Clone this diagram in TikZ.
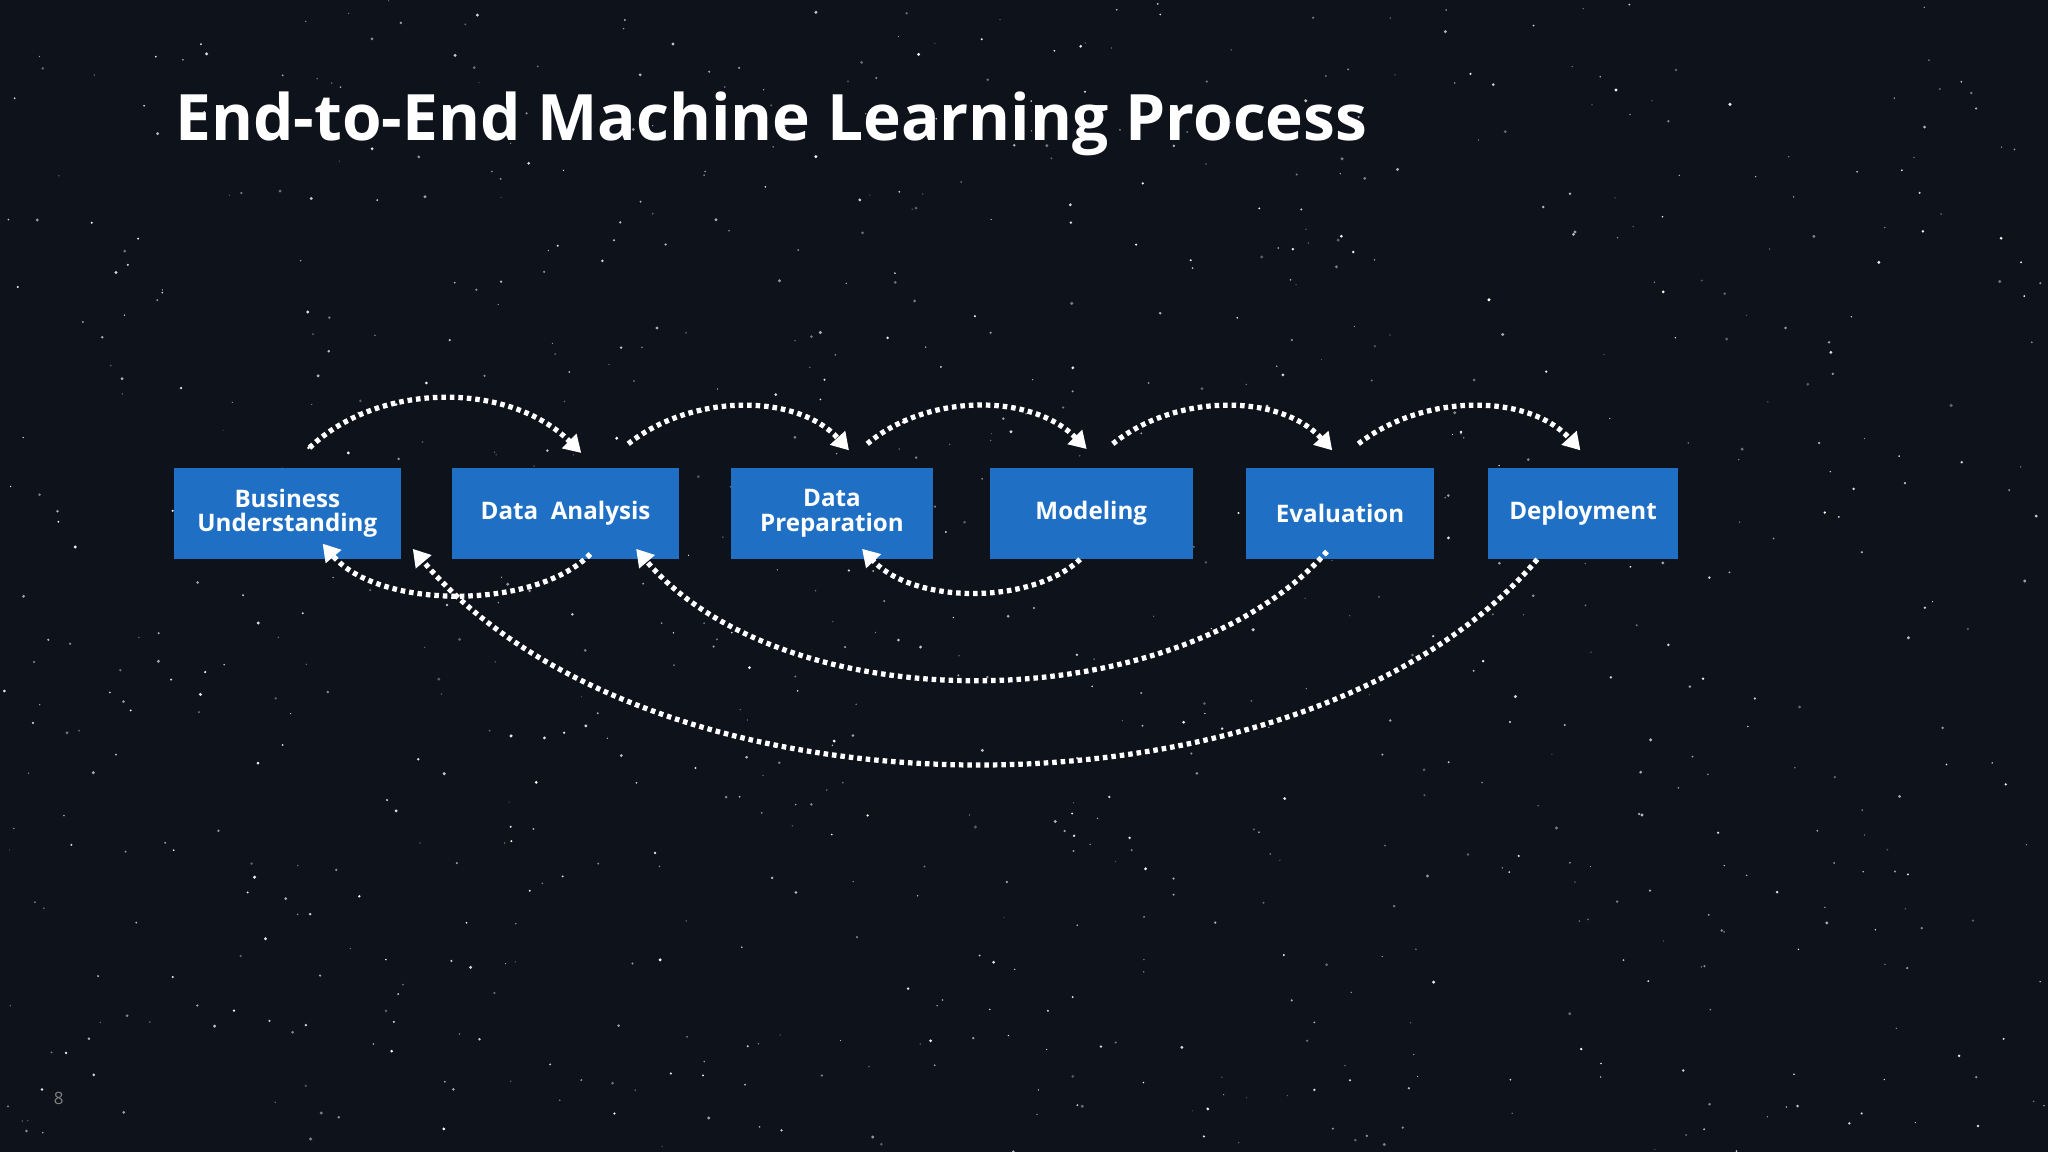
\documentclass[tikz,border=0pt]{standalone}
\usepackage{fontspec}
\setmainfont{Open Sans}
\usetikzlibrary{arrows.meta}
\begin{document}
\begin{tikzpicture}[x=1pt,y=-1pt,
  box/.style={fill=boxblue,text=white,font=\bfseries\fontsize{18.5}{18.5}\selectfont,align=center,inner sep=0pt,anchor=center},
  arr/.style={white,line width=4pt,dash pattern=on 3.5pt off 3pt,-{Triangle[width=15pt,length=13pt]}}]
\definecolor{boxblue}{HTML}{1F6FC5}
\definecolor{bg}{HTML}{0E121B}
\fill[bg] (0,0) rectangle (1568,882);
\useasboundingbox (0,0) rectangle (1568,882);
\pgfmathsetseed{7}
\foreach \i in {1,...,900}{
  \pgfmathsetmacro\xx{rnd*1568}\pgfmathsetmacro\yy{rnd*882}
  \pgfmathsetmacro\rr{0.4+0.9*rnd}\pgfmathsetmacro\oo{0.3+0.7*rnd}
  \fill[white,opacity=\oo] (\xx,\yy) circle (\rr);}
\node[text=white,font=\bfseries\fontsize{49}{49}\selectfont,anchor=west,inner sep=0pt] (title) at (134,95) {End-to-End Machine Learning Process};
\node[text=gray,font=\fontsize{13}{13}\selectfont] (pg) at (45,841) {8};
\node[box,minimum width=174,minimum height=70] (bu) at (220,393) {Business\\Understanding};
\node[box,minimum width=174,minimum height=70] (da) at (433,393) {Data\ \ Analysis};
\node[box,minimum width=154,minimum height=70] (dp) at (637,393) {Data\\Preparation};
\node[box,minimum width=155,minimum height=70] (mo) at (835.5,393) {Modeling};
\node[box,minimum width=144,minimum height=70] (ev) at (1026,393) {Evaluation};
\node[box,minimum width=146,minimum height=70] (de) at (1212,393) {Deployment};
% top arcs
\draw[arr] ([xshift=17pt,yshift=15pt]bu.north) .. controls (290,292) and (390,292) .. ([xshift=12pt,yshift=11pt]da.north);
\draw[arr] ([xshift=48pt,yshift=18pt]da.north) .. controls (530,301) and (610,301) .. ([xshift=13pt,yshift=13pt]dp.north);
\draw[arr] ([xshift=27pt,yshift=18pt]dp.north) .. controls (710,301) and (790,301) .. ([xshift=-3.5pt,yshift=14pt]mo.north);
\draw[arr] ([xshift=16.5pt,yshift=18pt]mo.north) .. controls (900,301) and (980,301) .. ([xshift=-6pt,yshift=13pt]ev.north);
\draw[arr] ([xshift=14pt,yshift=18pt]ev.north) .. controls (1090,301) and (1170,301) .. ([xshift=-2pt,yshift=13pt]de.north);
% bottom arcs
\draw[arr] ([xshift=19pt,yshift=4pt]da.south) .. controls (410,467) and (290,467) .. ([xshift=27pt,yshift=12pt]bu.south);
\draw[arr] ([xshift=-8.5pt]mo.south) .. controls (790,463) and (700,463) .. ([xshift=23pt,yshift=8pt]dp.south);
\draw[arr] ([xshift=-10pt,yshift=6pt]ev.south) .. controls (900,553) and (600,553) .. ([xshift=54pt,yshift=8pt]da.south);
\draw[arr] ([xshift=-35pt]de.south) .. controls (1000,638) and (500,638) .. ([xshift=96pt,yshift=8pt]bu.south);
\end{tikzpicture}
\end{document}
